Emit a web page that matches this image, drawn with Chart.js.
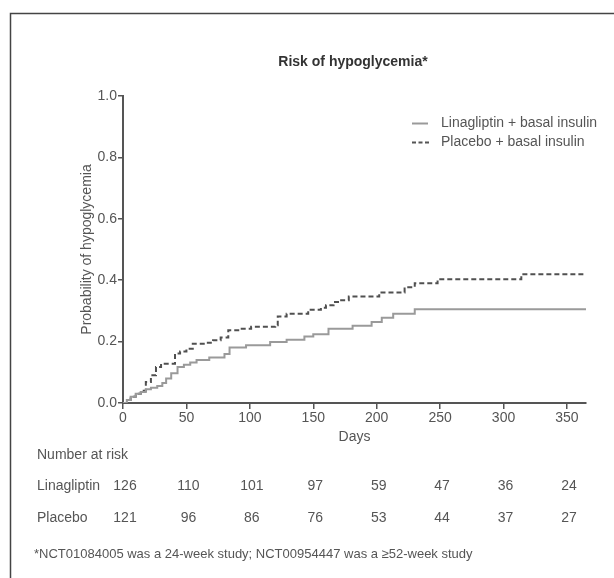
<!DOCTYPE html>
<html><head><meta charset="utf-8">
<script src="https://cdn.jsdelivr.net/npm/chart.js@4/dist/chart.umd.min.js"></script>
<style>html,body{margin:0;padding:0;background:#fff;} #wrap{position:relative;width:614px;height:578px;} canvas{display:block;}</style>
</head><body><div id="wrap"><canvas id="c" width="614" height="578"></canvas></div>
<script>
const chartTitle = 'Risk of hypoglycemia*';
const seriesLabels = ['Linagliptin + basal insulin', 'Placebo + basal insulin'];
const linaDays = [0, 3, 6, 10, 14, 18, 22, 27, 31, 34, 38, 43, 48, 53, 58, 68, 80, 84, 97, 116, 129, 143, 150, 162, 181, 196, 204, 213, 230, 365];
const linaProb = [0, .01, .02, .03, .036, .045, .05, .055, .065, .08, .097, .117, .125, .132, .14, .148, .16, .181, .188, .199, .206, .217, .224, .242, .252, .264, .278, .291, .305, .305];
const placDays = [0, 3, 6, 10, 14, 18, 22, 26, 30, 41, 45, 50, 55, 66, 71, 77, 83, 92, 101, 120, 122, 129, 146, 156, 160, 166, 171, 178, 202, 222, 230, 248, 314, 365];
const placProb = [0, .01, .02, .03, .04, .068, .09, .117, .128, .161, .168, .177, .193, .196, .204, .213, .237, .242, .248, .253, .282, .291, .304, .31, .318, .329, .335, .347, .36, .377, .39, .403, .419, .419];
const xTickValues = [0, 50, 100, 150, 200, 250, 300, 350];
const yTickValues = [0, 0.2, 0.4, 0.6, 0.8, 1.0];
const riskHeader = 'Number at risk';
const riskRows = ['Linagliptin', 'Placebo'];
const linaAtRisk = [126, 110, 101, 97, 59, 47, 36, 24];
const placAtRisk = [121, 96, 86, 76, 53, 44, 37, 27];
const footnote = '*NCT01084005 was a 24-week study; NCT00954447 was a \u226552-week study';

const FONT = '"Liberation Sans", Arial, Helvetica, sans-serif';
const TXT = '#555';

const toPts = (xs, ys) => xs.map((x, i) => ({x: x, y: ys[i]}));

const extras = {
  id: 'extras',
  afterDraw(chart) {
    const ctx = chart.ctx;
    const xs = chart.scales.x;
    ctx.save();
    // frame
    ctx.strokeStyle = '#444'; ctx.lineWidth = 1.5;
    ctx.beginPath(); ctx.moveTo(10.5, 578); ctx.lineTo(10.5, 13.5); ctx.lineTo(614, 13.5); ctx.stroke();
    // title
    ctx.fillStyle = '#333'; ctx.font = 'bold 14px ' + FONT;
    ctx.textAlign = 'center'; ctx.textBaseline = 'middle';
    ctx.fillText(chartTitle, 353, 62);
    // legend
    ctx.font = '14px ' + FONT; ctx.textAlign = 'left'; ctx.fillStyle = TXT;
    ctx.lineWidth = 2;
    ctx.strokeStyle = '#9a9a9a'; ctx.setLineDash([]);
    ctx.beginPath(); ctx.moveTo(412, 123.5); ctx.lineTo(428, 123.5); ctx.stroke();
    ctx.fillText(seriesLabels[0], 441, 123.5);
    ctx.strokeStyle = '#555'; ctx.setLineDash([4, 2.5]);
    ctx.beginPath(); ctx.moveTo(412, 142.5); ctx.lineTo(430, 142.5); ctx.stroke();
    ctx.setLineDash([]);
    ctx.fillText(seriesLabels[1], 441, 142.5);
    // risk table
    ctx.fillText(riskHeader, 37, 455);
    ctx.fillText(riskRows[0], 37, 486);
    ctx.fillText(riskRows[1], 37, 518);
    ctx.textAlign = 'center';
    xTickValues.forEach((t, i) => {
      const px = xs.getPixelForValue(t) + 2;
      ctx.fillText(String(linaAtRisk[i]), px, 486);
      ctx.fillText(String(placAtRisk[i]), px, 518);
    });
    // footnote
    ctx.textAlign = 'left'; ctx.font = '13px ' + FONT;
    ctx.fillText(footnote, 34, 554);
    ctx.restore();
  }
};

new Chart(document.getElementById('c'), {
  type: 'line',
  data: {
    datasets: [
      { label: seriesLabels[0], data: toPts(linaDays, linaProb), stepped: 'before', borderColor: '#9a9a9a', borderWidth: 2, pointRadius: 0, fill: false },
      { label: seriesLabels[1], data: toPts(placDays, placProb), stepped: 'before', borderColor: '#505050', borderWidth: 2, borderDash: [5, 3], pointRadius: 0, fill: false }
    ]
  },
  options: {
    responsive: false, animation: false, devicePixelRatio: 1,
    layout: { padding: { left: 79, top: 96, right: 28, bottom: 132 } },
    plugins: { legend: { display: false }, tooltip: { enabled: false } },
    scales: {
      x: {
        type: 'linear', min: 0, max: 365,
        afterBuildTicks: s => { s.ticks = xTickValues.map(v => ({value: v})); },
        afterFit: s => { s.height = 43; },
        grid: { display: true, drawOnChartArea: false, drawTicks: true, tickLength: 6, color: '#555', lineWidth: 1.5 },
        border: { display: true, color: '#555', width: 2 },
        ticks: { color: TXT, font: { size: 14, family: FONT }, padding: 1, maxRotation: 0 },
        title: { display: true, text: 'Days', color: TXT, font: { size: 14, family: FONT }, padding: 0 }
      },
      y: {
        type: 'linear', min: 0, max: 1,
        afterBuildTicks: s => { s.ticks = yTickValues.map(v => ({value: v})); },
        afterFit: s => { s.width = 44; },
        grid: { display: true, drawOnChartArea: false, drawTicks: true, tickLength: 5, color: '#555', lineWidth: 1.5 },
        border: { display: true, color: '#555', width: 2 },
        ticks: { color: TXT, font: { size: 14, family: FONT }, padding: 1, callback: v => Number(v).toFixed(1) },
        title: { display: true, text: 'Probability of hypoglycemia', color: TXT, font: { size: 14, family: FONT }, padding: 0 }
      }
    }
  },
  plugins: [extras]
});
</script></body></html>
